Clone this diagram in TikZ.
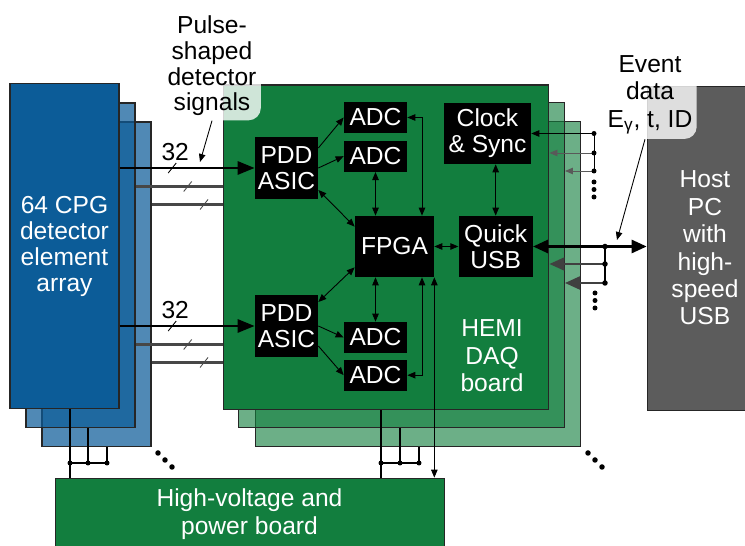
\documentclass[tikz,border=0pt]{standalone}
\usepackage{fontspec}
\setmainfont{Liberation Sans}
\usepackage{xcolor}
\usepackage{tikz}
\usetikzlibrary{arrows.meta, positioning}

\definecolor{azuldet}{RGB}{12,92,152}
\definecolor{verdedaq}{RGB}{18,126,62}
\definecolor{cinzapc}{RGB}{92,92,92}

\begin{document}
\begin{tikzpicture}[
            x=0.02cm, y=-0.02cm,
            fonte/.style={font=\fontsize{14}{14.8}\selectfont},
            placa_det/.style={
                draw=black!85, line width=0.6pt, fill=azuldet, inner sep=0pt,
                minimum width=2.18cm, minimum height=6.5cm
            },
            camada_det/.style={placa_det, fill opacity=0.72},
            placa_daq/.style={
                draw=black!85, line width=0.6pt, fill=verdedaq, inner sep=0pt,
                minimum width=6.52cm, minimum height=6.5cm
            },
            camada_daq/.style={placa_daq, fill opacity=0.62},
            caixa_chip/.style={
                fill=black, text=white, inner sep=0pt, align=center,
                minimum width=1.26cm, font=\fontsize{14}{14.8}\selectfont
            },
            rotulo/.style={
                align=center, inner sep=2.5pt, font=\fontsize{14}{14.6}\selectfont,
                fill=white, fill opacity=0.8, text opacity=1, rounded corners=7pt
            },
            seta/.style={-{Triangle[length=1.6mm, width=1.3mm]}, line width=0.5pt},
            seta_dupla/.style={{Triangle[length=1.6mm, width=1.3mm]}-{Triangle[length=1.6mm, width=1.3mm]}, line width=0.5pt},
            barra_forte/.style={-{Triangle[length=3.4mm, width=2.6mm]}, line width=1.6pt},
            barra_fraca/.style={line width=1.3pt, draw=black!72},
            barra_usb/.style={{Triangle[length=3mm, width=2.6mm]}-{Triangle[length=3mm, width=2.6mm]}, line width=1.5pt},
            volta_usb/.style={-{Triangle[length=3mm, width=2.6mm]}, line width=1.2pt, black!75},
            corte/.style={line width=0.5pt},
            alimentacao/.style={line width=1pt}
        ]
            \useasboundingbox (0,0) rectangle (745,546);

            % --- Matriz de detectores ---
            \node[camada_det] (det_camada3) at (96.5,284.5) {};
            \node[camada_det] (det_camada2) at (80.5,265.5) {};
            \node[placa_det, text=white, align=center, font=\fontsize{14}{14.8}\selectfont] (det_frente) at (64.5,246) {64 CPG\\detector\\element\\array};

            % --- Placas HEMI DAQ ---
            \node[camada_daq] (hemi_camada3) at (418,284) {};
            \node[camada_daq] (hemi_camada2) at (401.5,265) {};
            \node[placa_daq] (hemi_frente) at (386,247.5) {};
            \node[text=white, align=center, font=\fontsize{14}{15.6}\selectfont] (rotulo_hemi) at (492,356) {HEMI\\DAQ\\board};

            % --- PC e placa de alimentacao ---
            \node[draw=black!85, fill=cinzapc, text=white, align=center, inner sep=0pt,
                  minimum width=2.32cm, minimum height=6.48cm, font=\fontsize{14}{15.6}\selectfont] (host_pc) at (705,248) {Host\\PC\\with\\high-\\speed\\USB};
            \node[draw=black!85, fill=verdedaq, text=white, align=center, inner sep=0pt,
                  minimum width=7.78cm, minimum height=1.44cm, font=\fontsize{14}{16}\selectfont] (placa_hv) at (249.5,514) {High-voltage and\\power board};

            % --- Rotulos ---
            \node[rotulo] (rotulo_pulso) at (212,66) {Pulse-\\shaped\\detector\\signals};
            \node[rotulo, font=\fontsize{14}{15.6}\selectfont] (rotulo_evento) at (650,95) {Event\\data\\E\textsubscript{γ}, t, ID};

            % --- Circuitos da placa ---
            \node[caixa_chip, minimum height=1.24cm] (pdd_sup) at (286.5,168) {PDD\\ASIC};
            \node[caixa_chip, minimum height=0.62cm] (adc_1) at (375.5,117.5) {ADC};
            \node[caixa_chip, minimum height=0.62cm, below=0.14cm of adc_1] (adc_2) {ADC};
            \node[caixa_chip, minimum width=1.74cm, minimum height=1.22cm] (clock_sync) at (487.5,133.5) {Clock\\\& Sync};
            \node[caixa_chip, minimum width=1.58cm, minimum height=1.22cm] (fpga) at (394.5,246.5) {FPGA};
            \node[caixa_chip, minimum width=1.48cm, minimum height=1.22cm, right=0.48cm of fpga] (quick_usb) {Quick\\USB};
            \node[caixa_chip, minimum height=1.24cm] (pdd_inf) at (286.5,326) {PDD\\ASIC};
            \node[caixa_chip, minimum height=0.62cm] (adc_3) at (375.5,337.5) {ADC};
            \node[caixa_chip, minimum height=0.62cm, below=0.12cm of adc_3] (adc_4) {ADC};

            % --- Sinais dos detectores (32 canais) ---
            \draw[barra_forte] (det_frente.east |- pdd_sup.west) -- coordinate[pos=0.39] (corte_1) (pdd_sup.west);
            \draw[barra_fraca] ([yshift=-0.37cm]det_camada2.east |- pdd_sup.west) -- coordinate[pos=0.6] (corte_2) ([yshift=-0.37cm]hemi_frente.west |- pdd_sup.west);
            \draw[barra_fraca] ([yshift=-0.73cm]det_camada3.east |- pdd_sup.west) -- coordinate[pos=0.74] (corte_3) ([yshift=-0.73cm]hemi_frente.west |- pdd_sup.west);
            \draw[barra_forte] (det_frente.east |- pdd_inf.west) -- coordinate[pos=0.39] (corte_4) (pdd_inf.west);
            \draw[barra_fraca] ([yshift=-0.37cm]det_camada2.east |- pdd_inf.west) -- coordinate[pos=0.6] (corte_5) ([yshift=-0.37cm]hemi_frente.west |- pdd_inf.west);
            \draw[barra_fraca] ([yshift=-0.73cm]det_camada3.east |- pdd_inf.west) -- coordinate[pos=0.74] (corte_6) ([yshift=-0.73cm]hemi_frente.west |- pdd_inf.west);
            \draw[corte] ([shift={(-4,5)}]corte_1) -- ++(8,-10);
            \draw[corte, black!70] ([shift={(-4,5)}]corte_2) -- ++(8,-10);
            \draw[corte, black!70] ([shift={(-4,5)}]corte_3) -- ++(8,-10);
            \draw[corte] ([shift={(-4,5)}]corte_4) -- ++(8,-10);
            \draw[corte, black!70] ([shift={(-4,5)}]corte_5) -- ++(8,-10);
            \draw[corte, black!70] ([shift={(-4,5)}]corte_6) -- ++(8,-10);
            \node[fonte, inner sep=1pt, above=0.1cm of corte_1, xshift=0.06cm] (num_sup) {32};
            \node[fonte, inner sep=1pt, above=0.1cm of corte_4, xshift=0.06cm] (num_inf) {32};

            \coordinate (ponta_pulso) at (200,162);
            \draw[seta] (rotulo_pulso.south) -- (ponta_pulso);

            % --- Ligacoes internas ---
            \draw[seta] ([yshift=0.4cm]pdd_sup.east) -- (adc_1.west);
            \draw[seta] (pdd_sup.east) -- (adc_2.west);
            \draw[seta_dupla] ([yshift=-0.44cm]pdd_sup.east) -- ([yshift=-0.22cm]fpga.north west);
            \draw[seta_dupla] (adc_2.south) -- (adc_2.south |- fpga.north);
            \draw[seta_dupla] (adc_1.east) -| ([xshift=0.55cm]fpga.north);
            \draw[seta_dupla] (quick_usb.north) -- (quick_usb.north |- clock_sync.south);
            \draw[seta_dupla] (fpga.east) -- (quick_usb.west);
            \draw[seta_dupla] ([yshift=0.48cm]pdd_inf.east) -- ([yshift=0.2cm]fpga.south west);
            \draw[seta] (pdd_inf.east) -- (adc_3.west);
            \draw[seta] ([yshift=-0.4cm]pdd_inf.east) -- (adc_4.west);
            \draw[seta_dupla] (adc_3.north) -- (adc_3.north |- fpga.south);
            \draw[seta_dupla] ([xshift=0.55cm]fpga.south) |- (adc_4.east);
            \draw[seta_dupla] (fpga.south east) -- (fpga.south east |- placa_hv.north);

            % --- Relogio e sincronismo ---
            \coordinate (sinc_1) at (594,133.5);
            \coordinate (sinc_2) at (594,153);
            \coordinate (sinc_3) at (594,171);
            \draw[seta] (sinc_1) -- (clock_sync.east);
            \draw[seta, black!65] (sinc_2) -- (sinc_2 -| hemi_frente.east);
            \draw[seta, black!65] (sinc_3) -- (sinc_3 -| hemi_camada2.east);
            \draw[line width=0.5pt] (sinc_1) -- (sinc_3);
            \fill (sinc_1) circle[radius=0.05cm] (sinc_2) circle[radius=0.05cm] (sinc_3) circle[radius=0.05cm];
            \fill (594,182) circle[radius=0.05cm] (594,189.5) circle[radius=0.05cm] (594,197) circle[radius=0.05cm];

            % --- USB ---
            \coordinate (usb_1) at (605,246.5);
            \coordinate (usb_2) at (605,264);
            \coordinate (usb_3) at (605,283);
            \draw[barra_usb] (quick_usb.east) -- (host_pc.west |- quick_usb.east);
            \draw[line width=1.5pt] (usb_1) -- (usb_3);
            \draw[volta_usb] (usb_2) -- (usb_2 -| hemi_frente.east);
            \draw[volta_usb] (usb_3) -- (usb_3 -| hemi_camada2.east);
            \fill (usb_1) circle[radius=0.055cm] (usb_2) circle[radius=0.055cm] (usb_3) circle[radius=0.055cm];
            \fill (595,293) circle[radius=0.05cm] (595,300.5) circle[radius=0.05cm] (595,308) circle[radius=0.05cm];

            \coordinate (ponta_evento) at (617,240);
            \draw[seta] ([xshift=-0.1cm]rotulo_evento.south) -- (ponta_evento);

            % --- Alimentacao ---
            \coordinate (alim_d1) at (70,463);
            \coordinate (alim_d2) at (88,463);
            \coordinate (alim_d3) at (107,463);
            \draw[alimentacao] (alim_d1 |- det_frente.south) -- (alim_d1 |- placa_hv.north);
            \draw[alimentacao] (alim_d2 |- det_camada2.south) -- (alim_d2);
            \draw[alimentacao] (alim_d3 |- det_camada3.south) -- (alim_d3) -- (alim_d1);
            \fill (alim_d1) circle[radius=0.05cm] (alim_d2) circle[radius=0.05cm] (alim_d3) circle[radius=0.05cm];

            \coordinate (alim_h1) at (381,463);
            \coordinate (alim_h2) at (400,463);
            \coordinate (alim_h3) at (419,463);
            \draw[alimentacao] (alim_h1 |- hemi_frente.south) -- (alim_h1 |- placa_hv.north);
            \draw[alimentacao] (alim_h2 |- hemi_camada2.south) -- (alim_h2);
            \draw[alimentacao] (alim_h3 |- hemi_camada3.south) -- (alim_h3) -- (alim_h1);
            \fill (alim_h1) circle[radius=0.05cm] (alim_h2) circle[radius=0.05cm] (alim_h3) circle[radius=0.05cm];

            % --- Mais placas ---
            \fill (158,453) circle[radius=0.055cm] (165,460) circle[radius=0.055cm] (172,467) circle[radius=0.055cm];
            \fill (588,453) circle[radius=0.055cm] (595,460) circle[radius=0.055cm] (602,467) circle[radius=0.055cm];

        \end{tikzpicture}
\end{document}
